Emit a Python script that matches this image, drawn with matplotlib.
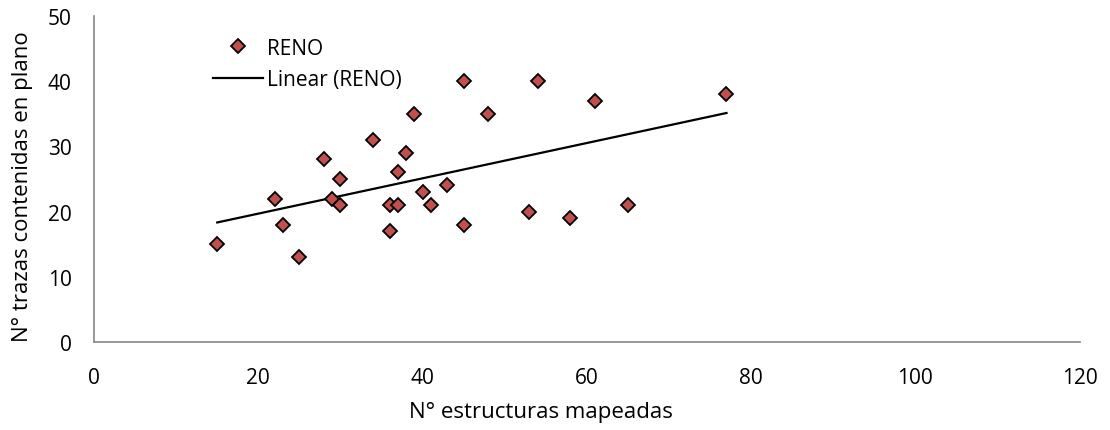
import numpy as np
import matplotlib
matplotlib.use("Agg")
import matplotlib.pyplot as plt

plt.rcParams['font.family'] = ['Open Sans', 'DejaVu Sans']

# N° estructuras mapeadas vs N° trazas contenidas en plano
estructuras = [15, 22, 23, 25, 28, 29, 30, 30, 34, 36, 36, 37, 37, 38, 40, 41, 43, 45,
               39, 45, 54, 48, 61, 53, 58, 65, 77]
trazas = [15, 22, 18, 13, 28, 22, 25, 21, 31, 21, 17, 26, 21, 29, 23, 21, 24, 18,
          35, 40, 40, 35, 37, 20, 19, 21, 38]

x_ticks = [0, 20, 40, 60, 80, 100, 120]
y_ticks = [0, 10, 20, 30, 40, 50]

fig = plt.figure(figsize=(11.1, 4.31), dpi=100)
ax = fig.add_axes([0.0847, 0.204, 0.888, 0.757])

ax.plot(estructuras, trazas, 'D', color='#C0504D', markeredgecolor='black',
        markeredgewidth=1.3, markersize=7.5, label='RENO', zorder=3)

# linear trend line (Excel style)
m, b = np.polyfit(estructuras, trazas, 1)
xs = np.array([min(estructuras), max(estructuras)])
ax.plot(xs, m * xs + b, color='black', lw=1.6, label='Linear (RENO)', zorder=2)

ax.set_xlim(0, 120)
ax.set_ylim(0, 50)
ax.set_xticks(x_ticks)
ax.set_yticks(y_ticks)
ax.tick_params(length=0, labelsize=15)
ax.tick_params(axis='x', pad=18)
ax.tick_params(axis='y', pad=16)
for s in ['top', 'right']:
    ax.spines[s].set_visible(False)
for s in ['left', 'bottom']:
    ax.spines[s].set_color('#868686')
    ax.spines[s].set_linewidth(1.2)

ax.set_xlabel("N° estructuras mapeadas", fontsize=16)
ax.set_ylabel("N° trazas contenidas en plano", fontsize=16)
ax.xaxis.set_label_coords(0.453, -0.18)
ax.yaxis.set_label_coords(-0.062, 0.48)

ax.legend(loc='upper left', bbox_to_anchor=(0.192, 0.91), bbox_transform=fig.transFigure,
          frameon=False, fontsize=15, handlelength=2.4, handletextpad=0.2,
          labelspacing=0.5, borderpad=0, borderaxespad=0)

plt.savefig('out.png', dpi=100)
plt.close()
